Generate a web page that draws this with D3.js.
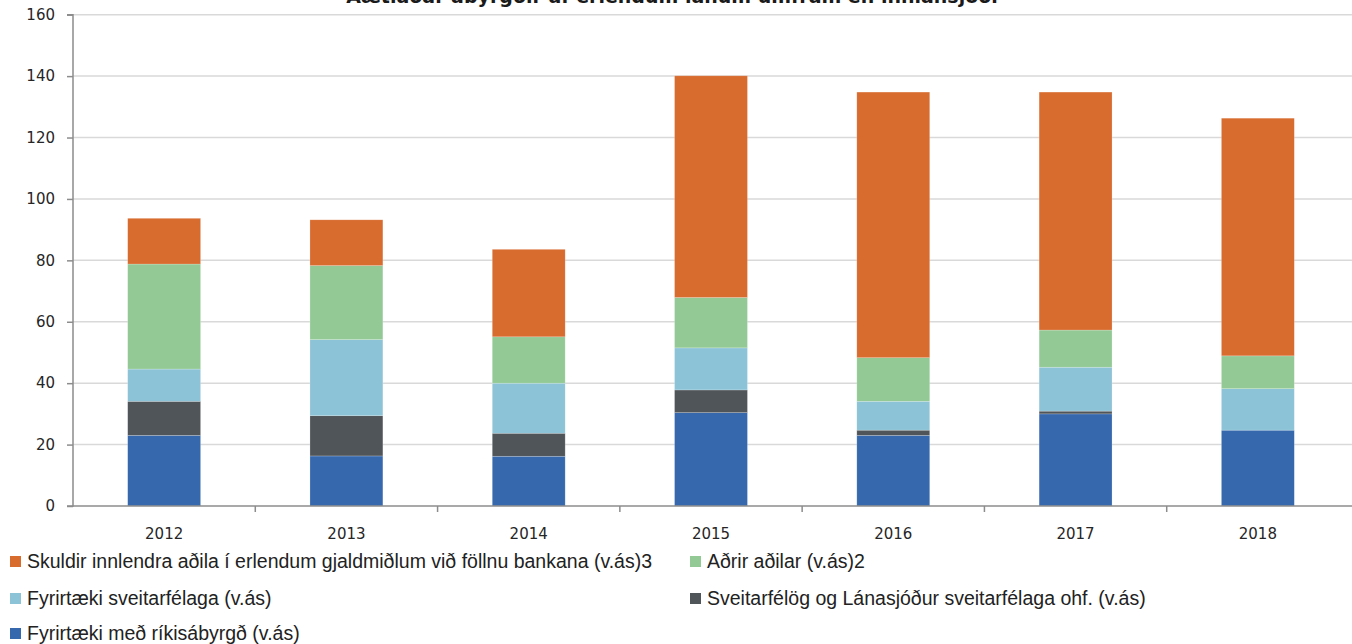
<!DOCTYPE html>
<html><head><meta charset="utf-8">
<script src="https://cdn.jsdelivr.net/npm/d3@7"></script>
<style>
body{margin:0;background:#fff;overflow:hidden}
svg{display:block}
</style></head>
<body>
<svg id="chart" width="1352" height="644"></svg>
<script>
const years = ["2012","2013","2014","2015","2016","2017","2018"];
const seriesNames = [
  "Fyrirtæki með ríkisábyrgð (v.ás)",
  "Sveitarfélög og Lánasjóður sveitarfélaga ohf. (v.ás)",
  "Fyrirtæki sveitarfélaga (v.ás)",
  "Aðrir aðilar (v.ás)2",
  "Skuldir innlendra aðila í erlendum gjaldmiðlum við föllnu bankana (v.ás)3"
];
const rikisabyrgd   = [23.0, 16.3, 16.2, 30.4, 23.0, 30.0, 24.7];
const sveitarfelog  = [11.1, 13.1, 7.5, 7.4, 1.7, 0.9, 0.0];
const fyrirtSveit   = [10.5, 24.8, 16.3, 13.7, 9.4, 14.3, 13.5];
const adrirAdilar   = [34.2, 24.1, 15.1, 16.4, 14.2, 12.1, 10.7];
const skuldirBanka  = [14.9, 14.9, 28.5, 72.2, 86.5, 77.5, 77.4];
const yTicks = [0,20,40,60,80,100,120,140,160];
const colors = ["#3568ad","#505559","#8cc3d7","#93c994","#d86b2e"];
const title = "Áætlaðar ábyrgðir af erlendum lánum umfram en innlánsjóði";

const svg = d3.select("#chart");
const mLeft = 73, mRight = 1349, mTop = 14.7, mBottom = 506;

const x = d3.scaleBand().domain(years).range([mLeft, mRight]).paddingInner(0.6).paddingOuter(0.3);
const y = d3.scaleLinear().domain([0,160]).range([mBottom, mTop]);

// title (clipped at top like reference)
svg.append("text").attr("x", 672).attr("y", 3).attr("text-anchor","middle")
  .attr("font-family","DejaVu Sans").attr("font-weight","bold").attr("font-size",19)
  .attr("fill","#1a1a1a").text(title);

// grid
svg.append("g").selectAll("line").data(yTicks.filter(d=>d>0)).join("line")
  .attr("x1", mLeft).attr("x2", 1352).attr("y1", d=>y(d)).attr("y2", d=>y(d))
  .attr("stroke","#d9d9d9").attr("stroke-width",1.5);

// stacked
const table = years.map((yr,i)=>({year:yr, s0:rikisabyrgd[i], s1:sveitarfelog[i], s2:fyrirtSveit[i], s3:adrirAdilar[i], s4:skuldirBanka[i]}));
const stack = d3.stack().keys(["s0","s1","s2","s3","s4"])(table);
svg.append("g").selectAll("g").data(stack).join("g")
  .attr("fill",(d,i)=>colors[i])
  .selectAll("rect").data(d=>d).join("rect")
  .attr("x", d=>x(d.data.year)).attr("width", x.bandwidth())
  .attr("y", d=>y(d[1])).attr("height", d=>Math.max(0, y(d[0])-y(d[1])))
  .attr("stroke", "rgba(255,255,255,0.35)").attr("stroke-width", 0.6);

// y axis
const yAxis = d3.axisLeft(y).tickValues(yTicks).tickSize(6).tickPadding(12);
const gy = svg.append("g").attr("transform",`translate(${mLeft},0)`).call(yAxis);
gy.select(".domain").attr("stroke","#8c8c8c").attr("stroke-width",1.5).attr("d",`M-6,${mTop}H0V${mBottom}H-6`);
gy.selectAll(".tick line").attr("stroke","#8c8c8c").attr("stroke-width",1.5);
gy.selectAll(".tick text").attr("font-family","DejaVu Sans").attr("font-size",15).attr("fill","#262626");

// x axis
const xAxis = d3.axisBottom(x).tickSize(0).tickPadding(22);
const gx = svg.append("g").attr("transform",`translate(0,${mBottom})`).call(xAxis);
gx.select(".domain").attr("stroke","#8c8c8c").attr("stroke-width",1.5).attr("d",`M${mLeft},0H1352`);
gx.selectAll(".tick text").attr("font-family","DejaVu Sans").attr("font-size",15).attr("fill","#262626");
const step = x.step();
svg.append("g").selectAll("line").data(years.slice(1)).join("line")
  .attr("x1", d=>x(d) - (step - x.bandwidth())/2).attr("x2", d=>x(d) - (step - x.bandwidth())/2)
  .attr("y1", mBottom).attr("y2", mBottom+6).attr("stroke","#8c8c8c").attr("stroke-width",1.5);

// legend
const legendItems = [
  {i:4, lx:10, ly:561}, {i:3, lx:690, ly:561},
  {i:2, lx:10, ly:598}, {i:1, lx:690, ly:598},
  {i:0, lx:10, ly:633}
];
const lg = svg.append("g").selectAll("g").data(legendItems).join("g")
  .attr("transform", d=>`translate(${d.lx},${d.ly})`);
lg.append("rect").attr("x",0).attr("y",-5).attr("width",11).attr("height",11).attr("fill",d=>colors[d.i]);
lg.append("text").attr("x",17).attr("y",6.5).attr("font-family","Liberation Sans Narrow, Liberation Sans")
  .attr("font-size",19.5).attr("fill","#222").text(d=>seriesNames[d.i]);
</script>
</body></html>
